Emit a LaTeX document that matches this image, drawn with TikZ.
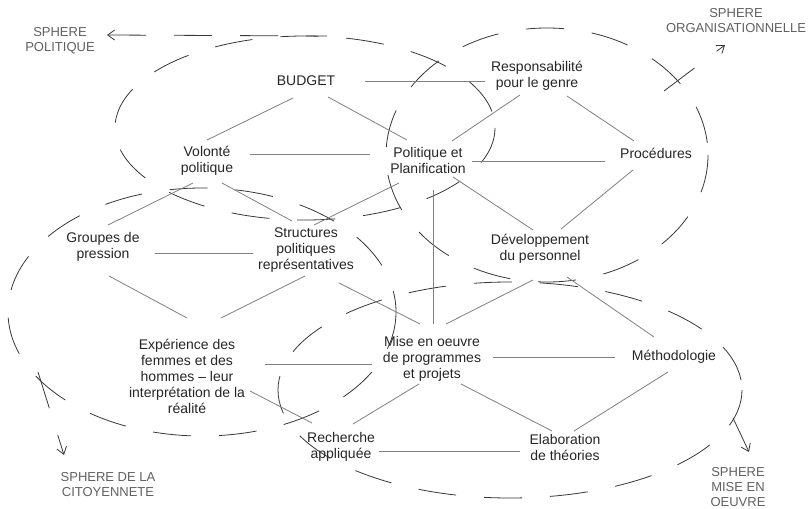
\documentclass[tikz,border=0pt]{standalone}
\usepackage{fontspec}
\setmainfont{Liberation Sans}
\usetikzlibrary{calc,arrows.meta}
\begin{document}
\begin{tikzpicture}[x=1pt,y=-1pt,
  txt/.style={align=center,inner sep=0pt,text=black!85,font=\fontsize{14}{16}\selectfont},
  lbl/.style={align=center,inner sep=0pt,text=black!62,font=\fontsize{13}{15}\selectfont},
  conn/.style={draw=black!50,line width=0.8pt},
  sph/.style={draw=black!78,line width=0.8pt,dash pattern=on 38pt off 28pt},
  tip/.style={-{Straight Barb[length=7pt,width=10pt]}},
  tipst/.style={{Straight Barb[length=7pt,width=10pt]}-}]
\useasboundingbox (0,0) rectangle (810,508);
\fill[white] (0,0) rectangle (810,508);

% labels
\node[lbl] (lpol) at (60,41) {SPHERE\\POLITIQUE};
\node[lbl] (lorg) at (736,21) {SPHERE\\ORGANISATIONNELLE};
\node[lbl] (lcit) at (108,485) {SPHERE DE LA\\CITOYENNETE};
\node[lbl] (lmise) at (738,487) {SPHERE\\MISE EN\\OEUVRE};

% nodes
\node[txt] (budget) at (306,81) {BUDGET};
\node[txt] (resp) at (537,76) {Responsabilité\\pour le genre};
\node[txt] (volonte) at (207,161) {Volonté\\politique};
\node[txt] (polit) at (428,160) {Politique et\\Planification};
\node[txt] (proc) at (656,153) {Procédures};
\node[txt] (groupes) at (103,247) {Groupes de\\pression};
\node[txt] (struct) at (306,250) {Structures\\politiques\\représentatives};
\node[txt] (dev) at (540,249) {Développement\\du personnel};
\node[txt] (exp) at (187,376) {Expérience des\\femmes et des\\hommes – leur\\interprétation de la\\réalité};
\node[txt] (mise) at (432,359) {Mise en oeuvre\\de programmes\\et projets};
\node[txt] (meth) at (674,357) {Méthodologie};
\node[txt] (rech) at (341,447) {Recherche\\appliquée};
\node[txt] (elab) at (565,447) {Elaboration\\de théories};

% spheres
\draw[sph] (305,128) ellipse [x radius=190, y radius=92];
\draw[sph,tipst] (107,35) -- (327,36);
\draw[sph] (547,155) ellipse [x radius=161, y radius=127];
\draw[sph,tip] (664,91) -- (725,45);
\draw[sph] (202,312) ellipse [x radius=194, y radius=124];
\draw[sph,tip] (38,372) -- (64,455);
\draw[sph] (510,390) ellipse [x radius=232, y radius=108];
\draw[sph,tip] (733,418) -- (749,452);

% connectors
\draw[conn] ($(budget)+(59,0)$) -- ($(resp)+(-52,5)$);
\draw[conn] ($(budget)+(-13,17)$) -- ($(volonte)+(0,-21)$);
\draw[conn] ($(budget)+(22,16)$) -- ($(polit)+(-21,-20)$);
\draw[conn] ($(resp)+(-17,19)$) -- ($(polit)+(24,-19)$);
\draw[conn] ($(resp)+(30,20)$) -- ($(proc)+(-22,-12)$);
\draw[conn] ($(volonte)+(43,-7)$) -- ($(polit)+(-58,-6)$);
\draw[conn] ($(polit)+(44,1)$) -- ($(proc)+(-51,8)$);
\draw[conn] ($(volonte)+(-14,22)$) -- ($(groupes)+(5,-22)$);
\draw[conn] ($(volonte)+(15,22)$) -- ($(struct)+(-14,-29)$);
\draw[conn] ($(polit)+(-29,23)$) -- ($(struct)+(8,-25)$);
\draw[conn] ($(polit)+(25,17)$) -- ($(dev)+(-7,-19)$);
\draw[conn] ($(proc)+(-23,17)$) -- ($(dev)+(21,-20)$);
\draw[conn] ($(polit)+(5,30)$) -- ($(mise)+(1,-35)$);
\draw[conn] ($(groupes)+(52,6)$) -- ($(struct)+(-53,3)$);
\draw[conn] ($(groupes)+(6,29)$) -- ($(exp)+(0,-58)$);
\draw[conn] ($(struct)+(-1,26)$) -- ($(exp)+(34,-58)$);
\draw[conn] ($(struct)+(33,33)$) -- ($(mise)+(-12,-35)$);
\draw[conn] ($(dev)+(-7,31)$) -- ($(mise)+(14,-35)$);
\draw[conn] ($(dev)+(27,28)$) -- ($(meth)+(-20,-20)$);
\draw[conn] ($(exp)+(78,-12)$) -- ($(mise)+(-60,5)$);
\draw[conn] ($(mise)+(61,-2)$) -- ($(meth)+(-59,0)$);
\draw[conn] ($(mise)+(-13,25)$) -- ($(rech)+(12,-23)$);
\draw[conn] ($(mise)+(29,25)$) -- ($(elab)+(-13,-16)$);
\draw[conn] ($(meth)+(-6,15)$) -- ($(elab)+(9,-16)$);
\draw[conn] ($(rech)+(38,4)$) -- ($(elab)+(-45,4)$);
\draw[conn] ($(exp)+(63,15)$) -- ($(rech)+(-29,-24)$);
\end{tikzpicture}
\end{document}
